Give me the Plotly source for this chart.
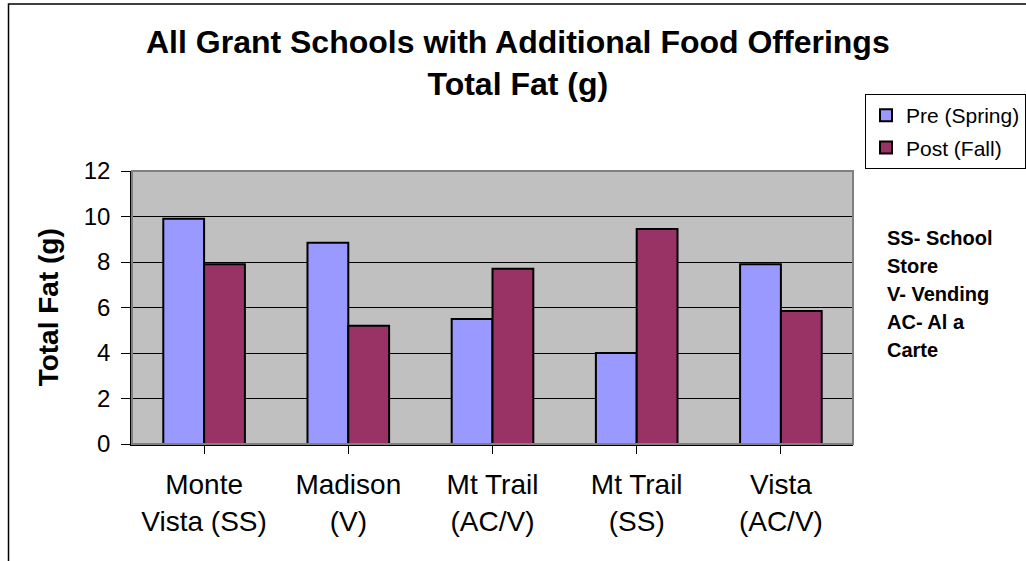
import plotly.graph_objects as go

categories = ["Monte<br>Vista (SS)", "Madison<br>(V)", "Mt Trail<br>(AC/V)", "Mt Trail<br>(SS)", "Vista<br>(AC/V)"]
pre_spring = [9.9, 8.85, 5.5, 4.0, 7.9]
post_fall = [7.9, 5.2, 7.7, 9.45, 5.85]
series_names = ["Pre (Spring)", "Post (Fall)"]
y_ticks = [0, 2, 4, 6, 8, 10, 12]
key_lines = ["SS- School", "Store", "V- Vending", "AC- Al a", "Carte"]

W, H = 1026, 561
L, R, T, B = 132, 856, 171, 444
pw, ph = R - L, B - T

def px_x(p):
    return (p - L) / pw

def px_y(p):
    return (B - p) / ph

FONT = "Arial, Liberation Sans, sans-serif"

fig = go.Figure()
fig.add_trace(go.Bar(x=list(range(len(categories))), y=pre_spring, name=series_names[0],
                     marker=dict(color="#9999FF", line=dict(color="black", width=2)),
                     legendgroup="a"))
fig.add_trace(go.Bar(x=list(range(len(categories))), y=post_fall, name=series_names[1],
                     marker=dict(color="#993366", line=dict(color="black", width=2)),
                     legendgroup="b"))

annotations = [
    dict(text="<b>All Grant Schools with Additional Food Offerings<br>Total Fat (g)</b>",
         xref="paper", yref="paper", x=px_x(520), y=px_y(63), xanchor="center", yanchor="middle",
         showarrow=False, font=dict(family=FONT, size=32, color="black")),
    dict(text="<b>Total Fat (g)</b>", xref="paper", yref="paper", x=px_x(48), y=px_y(307),
         xanchor="center", yanchor="middle", textangle=-90, showarrow=False,
         font=dict(family=FONT, size=28, color="black")),
]
for i, line in enumerate(key_lines):
    annotations.append(dict(text="<b>%s</b>" % line, xref="paper", yref="paper",
                            x=px_x(888), y=px_y(238 + 28 * i), xanchor="left", yanchor="middle",
                            showarrow=False, font=dict(family=FONT, size=20, color="black")))

shapes = [
    dict(type="rect", xref="paper", yref="paper", x0=0, x1=1, y0=0, y1=1,
         line=dict(color="#808080", width=2), layer="above"),
    dict(type="rect", xref="paper", yref="paper", x0=px_x(8), x1=px_x(1040), y0=px_y(4), y1=px_y(580),
         line=dict(color="#000000", width=1.5), layer="above"),
]

fig.update_layout(
    width=W, height=H,
    margin=dict(l=L, r=W - R, t=T, b=H - B, pad=0),
    paper_bgcolor="white", plot_bgcolor="#C0C0C0",
    barmode="group", bargap=0.434, bargroupgap=0,
    font=dict(family=FONT, color="black"),
    showlegend=True,
    legend=dict(xref="container", yref="container", x=1.0, y=1 - 94 / H,
                xanchor="right", yanchor="top",
                bgcolor="white", bordercolor="#000000", borderwidth=1,
                font=dict(family=FONT, size=21, color="black"),
                traceorder="grouped", tracegroupgap=2, itemwidth=30),
    annotations=annotations,
    shapes=shapes,
    xaxis=dict(tickmode="array", tickvals=list(range(len(categories))), ticktext=categories,
               range=[-0.5, len(categories) - 0.5],
               tickson="boundaries", ticks="outside", ticklen=8, tickcolor="black",
               showline=True, linecolor="black", linewidth=1.5,
               showgrid=False, zeroline=False, ticklabelstandoff=7,
               tickfont=dict(family=FONT, size=28, color="black")),
    yaxis=dict(range=[0, 12], tickvals=y_ticks, ticks="outside", ticklen=9, tickcolor="black",
               showline=True, linecolor="black", linewidth=1.5,
               showgrid=True, gridcolor="#000000", gridwidth=1, zeroline=False,
               ticklabelstandoff=6,
               tickfont=dict(family=FONT, size=24, color="black")),
)

fig.write_html("out.html", config={"displayModeBar": False},
               post_script="document.body.style.margin='0';document.body.style.overflow='hidden';")
